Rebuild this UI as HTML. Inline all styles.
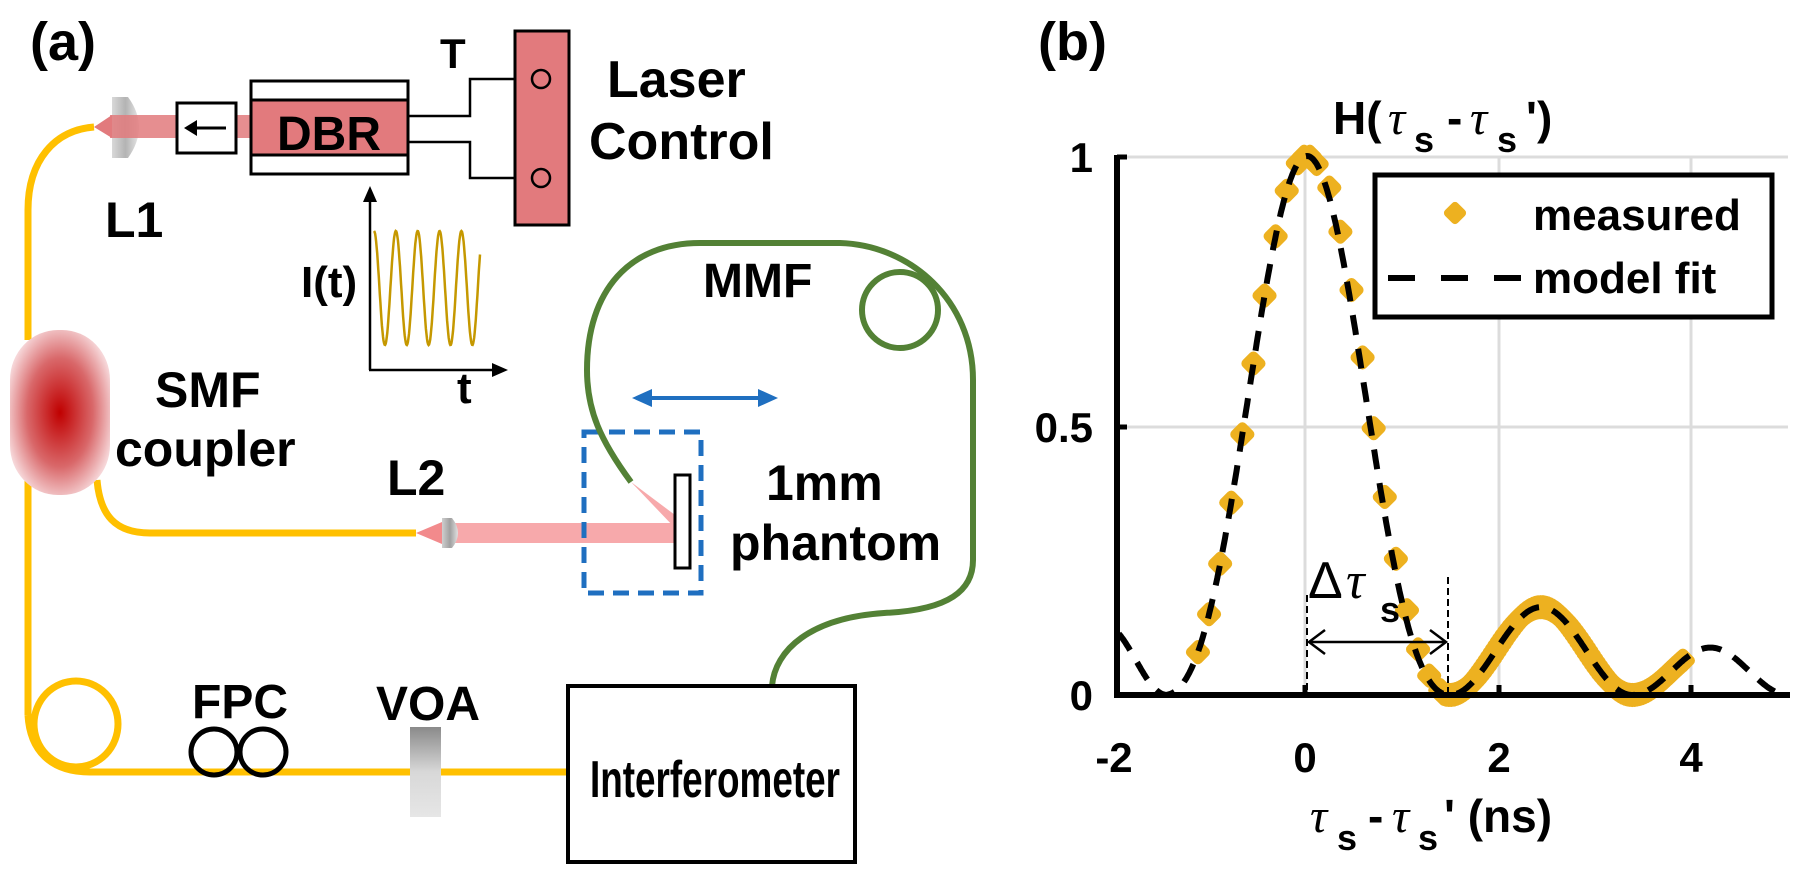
<!DOCTYPE html>
<html><head><meta charset="utf-8"><style>
html,body{margin:0;padding:0;background:#fff;}
svg{display:block;}
text{font-family:"Liberation Sans",Arial,sans-serif;font-weight:bold;fill:#000;}
</style></head><body>
<svg id="s" width="1800" height="887" viewBox="0 0 1800 887" xmlns="http://www.w3.org/2000/svg">
<defs>
<radialGradient id="cg" cx="0.5" cy="0.5" r="0.55">
<stop offset="0" stop-color="#c00000"/><stop offset="0.6" stop-color="#d9686a"/><stop offset="1" stop-color="#f6d6d8"/>
</radialGradient>
<linearGradient id="lg" x1="0" x2="1"><stop offset="0" stop-color="#cfcfcf"/><stop offset="0.5" stop-color="#a0a0a0"/><stop offset="1" stop-color="#e0e0e0"/></linearGradient>
<linearGradient id="vg" x1="0" y1="0" x2="0" y2="1"><stop offset="0" stop-color="#8a8a8a"/><stop offset="0.5" stop-color="#d8d8d8"/><stop offset="1" stop-color="#e6e6e6"/></linearGradient>
</defs>

<text x="30" y="60" font-size="54">(a)</text>

<path d="M112,97 L128,97 Q150,127 128,158 L112,158 z" fill="url(#lg)" opacity="0.8"/>
<rect x="110" y="115" width="145" height="23" fill="#e27a7d" opacity="0.85"/>
<path d="M94,127 L112,115 L112,138 z" fill="#e27a7d"/>
<rect x="177" y="103" width="59" height="50" fill="#fff" stroke="#000" stroke-width="3"/>
<line x1="226" y1="128" x2="190" y2="128" stroke="#000" stroke-width="3"/>
<path d="M184,128 L197,120 L197,136 z" fill="#000"/>
<rect x="251" y="81" width="157" height="93" fill="#fff" stroke="#000" stroke-width="3"/>
<rect x="251" y="100" width="157" height="55" fill="#e27a7d" stroke="#000" stroke-width="3"/>
<text x="329" y="150" font-size="48" text-anchor="middle">DBR</text>
<polyline points="408,116 470,116 470,79 533,79" fill="none" stroke="#000" stroke-width="2.5"/>
<polyline points="408,142 470,142 470,178 533,178" fill="none" stroke="#000" stroke-width="2.5"/>
<text x="440" y="68" font-size="42">T</text>
<rect x="515" y="31" width="54" height="194" fill="#e27a7d" stroke="#000" stroke-width="3"/>
<circle cx="541" cy="79" r="9" fill="#e27a7d" stroke="#000" stroke-width="2.5"/>
<circle cx="541" cy="178" r="9" fill="#e27a7d" stroke="#000" stroke-width="2.5"/>
<text x="607" y="97" font-size="52">Laser</text>
<text x="589" y="159" font-size="52">Control</text>

<line x1="370" y1="370" x2="370" y2="195" stroke="#000" stroke-width="2.5"/>
<path d="M370,186 L363,202 L377,202 z" fill="#000"/>
<line x1="369" y1="370" x2="498" y2="370" stroke="#000" stroke-width="2.5"/>
<path d="M508,370 L492,363 L492,377 z" fill="#000"/>
<path id="sine" fill="none" stroke="#c59800" stroke-width="2.5"/>
<text x="301" y="297" font-size="44">I(t)</text>
<text x="457" y="403" font-size="44">t</text>
<text x="105" y="237" font-size="50">L1</text>

<path d="M94,127 C55,130 28,160 28,210 L28,340" fill="none" stroke="#ffc000" stroke-width="7"/>
<path d="M28,480 L28,715" fill="none" stroke="#ffc000" stroke-width="7"/>
<ellipse cx="76" cy="724" rx="42" ry="43" fill="none" stroke="#ffc000" stroke-width="7"/>
<path d="M28,715 C30,750 50,772 90,772 L571,772" fill="none" stroke="#ffc000" stroke-width="7"/>
<path d="M97,480 C100,515 115,533 150,533 L416,533" fill="none" stroke="#ffc000" stroke-width="7"/>
<rect x="10" y="330" width="100" height="165" rx="48" ry="50" fill="url(#cg)"/>
<text x="155" y="407" font-size="50">SMF</text>
<text x="115" y="466" font-size="50">coupler</text>
<text x="387" y="495" font-size="50">L2</text>

<rect x="450" y="523" width="225" height="20" fill="#f7a9ab"/>
<path d="M416,533 L442,522 L442,544 z" fill="#f28a8c"/>
<path d="M442,518 L452,518 Q464,533 452,548 L442,548 z" fill="url(#lg)"/>
<path d="M631,482 L675,515 L675,528 z" fill="#f7a9ab"/>
<rect x="675" y="475" width="15" height="93" fill="#fff" stroke="#000" stroke-width="3"/>
<rect x="584" y="432" width="117" height="161" fill="none" stroke="#1f6fc0" stroke-width="5" stroke-dasharray="16,9"/>
<line x1="645" y1="398" x2="765" y2="398" stroke="#1f6fc0" stroke-width="4"/>
<path d="M632,398 L652,389 L652,407 z" fill="#1f6fc0"/>
<path d="M778,398 L758,389 L758,407 z" fill="#1f6fc0"/>
<text x="766" y="500" font-size="50">1mm</text>
<text x="730" y="560" font-size="50">phantom</text>

<path d="M631,482 C600,440 587,410 587,370 C587,290 630,243 700,243 L840,243 C910,245 973,300 973,380 L973,560 C973,590 950,610 884,613 C810,618 775,650 772,686" fill="none" stroke="#538135" stroke-width="6"/>
<circle cx="900" cy="310" r="38" fill="none" stroke="#538135" stroke-width="6"/>
<text x="703" y="297" font-size="48">MMF</text>

<circle cx="214" cy="752" r="23" fill="none" stroke="#000" stroke-width="5"/>
<circle cx="263" cy="752" r="23" fill="none" stroke="#000" stroke-width="5"/>
<text x="192" y="718" font-size="48">FPC</text>
<rect x="410" y="727" width="31" height="90" fill="url(#vg)"/>
<text x="376" y="720" font-size="48">VOA</text>
<rect x="568" y="686" width="287" height="176" fill="#fff" stroke="#000" stroke-width="4"/>
<text x="590" y="797" font-size="52" textLength="250" lengthAdjust="spacingAndGlyphs">Interferometer</text>

<text x="1038" y="60" font-size="54">(b)</text>
<g stroke="#dcdcdc" stroke-width="3">
<line x1="1305" y1="157" x2="1305" y2="695"/>
<line x1="1499" y1="157" x2="1499" y2="695"/>
<line x1="1691" y1="157" x2="1691" y2="695"/>
<line x1="1117" y1="157" x2="1788" y2="157"/>
<line x1="1117" y1="427" x2="1788" y2="427"/>
</g>
<g id="dots"></g>
<path id="fit" fill="none" stroke="#000" stroke-width="6" stroke-dasharray="20,14"/>
<line x1="1117" y1="155" x2="1117" y2="697" stroke="#000" stroke-width="6"/>
<line x1="1114" y1="695" x2="1790" y2="695" stroke="#000" stroke-width="6"/>
<g stroke="#000" stroke-width="5">
<line x1="1117" y1="157" x2="1127" y2="157"/><line x1="1117" y1="427" x2="1127" y2="427"/>
<line x1="1305" y1="695" x2="1305" y2="685"/><line x1="1499" y1="695" x2="1499" y2="685"/><line x1="1691" y1="695" x2="1691" y2="685"/>
</g>
<g font-size="42" text-anchor="end">
<text x="1093" y="172">1</text><text x="1093" y="442">0.5</text><text x="1093" y="710">0</text>
</g>
<g font-size="42" text-anchor="middle">
<text x="1114" y="772">-2</text><text x="1305" y="772">0</text><text x="1499" y="772">2</text><text x="1691" y="772">4</text>
</g>
<line x1="1307" y1="595" x2="1307" y2="695" stroke="#000" stroke-width="2" stroke-dasharray="7,4"/>
<line x1="1448" y1="577" x2="1448" y2="695" stroke="#000" stroke-width="2" stroke-dasharray="7,4"/>
<line x1="1309" y1="642" x2="1446" y2="642" stroke="#000" stroke-width="2.5"/>
<polyline points="1325,630 1309,642 1325,654" fill="none" stroke="#000" stroke-width="2.5"/>
<polyline points="1430,630 1446,642 1430,654" fill="none" stroke="#000" stroke-width="2.5"/>
<text x="1308" y="598" font-size="52" style="font-weight:normal">Δ</text>
<text x="1346" y="598" font-size="52" style="font-weight:normal;font-style:italic;font-family:'Liberation Serif',serif">τ</text>
<text x="1380" y="622" font-size="36">s</text>
<text x="1333" y="134" font-size="46">H(</text>
<text x="1388" y="134" font-size="48" style="font-weight:normal;font-style:italic;font-family:'Liberation Serif',serif">τ</text>
<text x="1414" y="152" font-size="36">s</text>
<text x="1447" y="134" font-size="46">-</text>
<text x="1470" y="134" font-size="48" style="font-weight:normal;font-style:italic;font-family:'Liberation Serif',serif">τ</text>
<text x="1497" y="152" font-size="36">s</text>
<text x="1526" y="134" font-size="46">')</text>
<text x="1310" y="832" font-size="48" style="font-weight:normal;font-style:italic;font-family:'Liberation Serif',serif">τ</text>
<text x="1337" y="850" font-size="36">s</text>
<text x="1368" y="832" font-size="46">-</text>
<text x="1392" y="832" font-size="48" style="font-weight:normal;font-style:italic;font-family:'Liberation Serif',serif">τ</text>
<text x="1418" y="850" font-size="36">s</text>
<text x="1444" y="832" font-size="46">' (ns)</text>
<rect x="1375" y="175" width="397" height="142" fill="#fff" stroke="#000" stroke-width="5"/>
<rect x="1446" y="204" width="18" height="18" rx="4" fill="#edb120" transform="rotate(45 1455 213)"/>
<line x1="1388" y1="278" x2="1522" y2="278" stroke="#000" stroke-width="6" stroke-dasharray="27,26"/>
<text x="1533" y="230" font-size="44">measured</text>
<text x="1533" y="293" font-size="44">model fit</text>
</svg>
<script>
(function(){
var X=function(x){return 1307+96.5*x;}, Y=function(v){return 695-539*v;};
function f(x){
 if(x<-1.45){var s=Math.sin(Math.PI*(x+1.45)/1.3);return 0.13*s*s;}
 if(x<1.48){var u=x/1.48; if(Math.abs(u)<1e-6)return 1; var a=Math.PI*u; var t=Math.sin(a)/a; return t*t;}
 if(x<3.37){var s=Math.sin(Math.PI*(x-1.48)/1.89);return 0.163*s*s;}
 var s=Math.sin(Math.PI*(x-3.37)/1.62);return 0.088*s*s;
}
var d="";for(var x=-1.95;x<=4.97;x+=0.01){d+=(d?"L":"M")+X(x).toFixed(1)+","+Y(f(x)).toFixed(1);}
document.getElementById("fit").setAttribute("d",d);
var sd="";for(var i=0;i<=200;i++){var xx=374+106*i/200;var yy=288-57*Math.cos(2*Math.PI*5*i/200*0.97);sd+=(i?"L":"M")+xx.toFixed(1)+","+yy.toFixed(1);}
document.getElementById("sine").setAttribute("d",sd);
var g=document.getElementById("dots"),ns="http://www.w3.org/2000/svg",pts=[];
for(var x=-1.13;x<0;x+=0.115)pts.push(x);
pts.push(-0.03,0.03,0.1);
for(var x=0.2;x<1.45;x+=0.115)pts.push(x);
for(var x=1.42;x<=3.9;x+=0.025)pts.push(x);
pts.forEach(function(x){var r=document.createElementNS(ns,"rect");var cx=X(x)+(x>0.1&&x<1.4?3:0),cy=Y(f(x));
 r.setAttribute("x",cx-10);r.setAttribute("y",cy-10);r.setAttribute("width",20);r.setAttribute("height",20);r.setAttribute("rx",5);
 r.setAttribute("fill","#edb120");r.setAttribute("transform","rotate(45 "+cx+" "+cy+")");g.appendChild(r);});
})();
</script>
</body></html>
